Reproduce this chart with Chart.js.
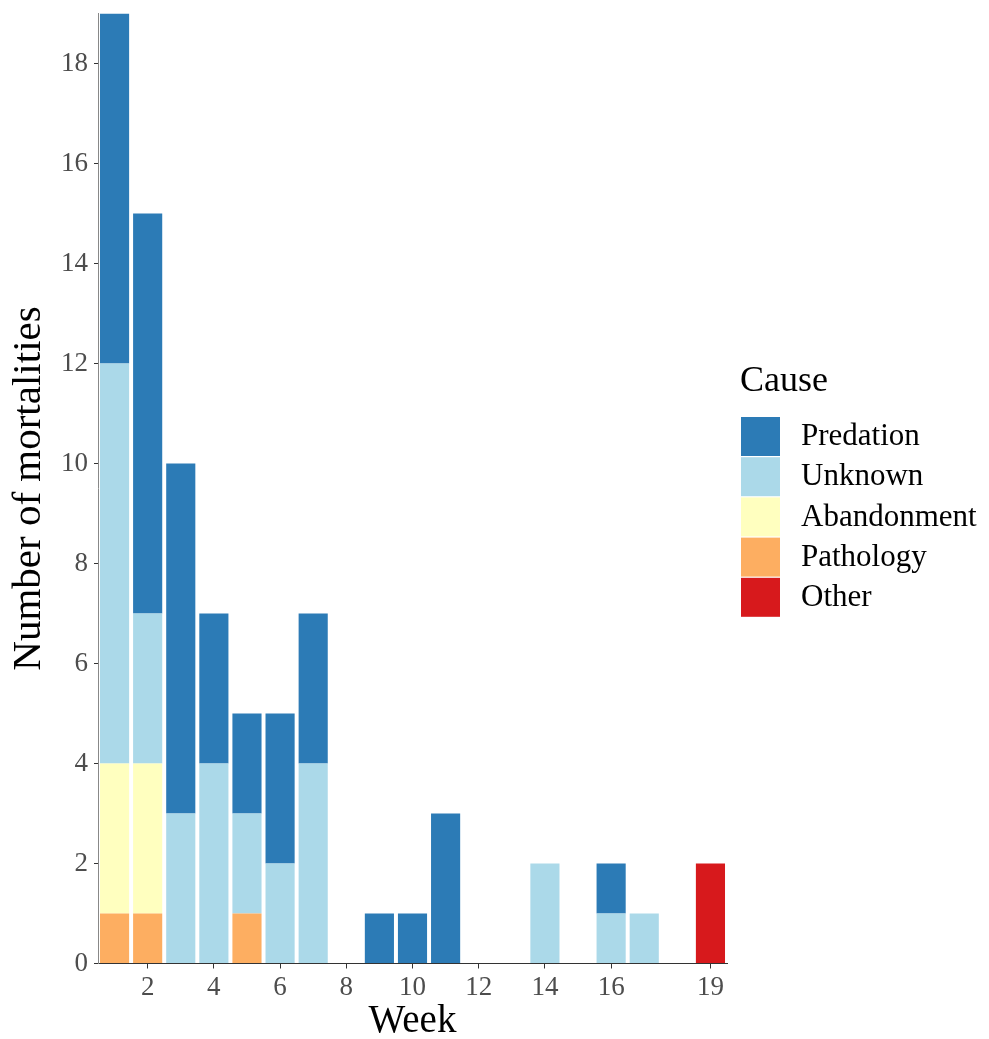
<!DOCTYPE html>
<html>
<head>
<meta charset="utf-8">
<script src="https://cdn.jsdelivr.net/npm/chart.js@4.4.1/dist/chart.umd.min.js"></script>
<style>
  html, body { margin: 0; padding: 0; background: #fff; }
  #wrap { width: 989px; height: 1039px; }
</style>
</head>
<body>
<div id="wrap"><canvas id="myChart"></canvas></div>
<script>
const weeks = ['1','2','3','4','5','6','7','8','9','10','11','12','13','14','15','16','17','18','19'];
const shownWeeks = ['2','4','6','8','10','12','14','16','19'];

// mortalities per week, by cause
const predation   = [7, 8, 7, 3, 2, 3, 3, 0, 1, 1, 3, 0, 0, 0, 0, 1, 0, 0, 0];
const unknown     = [8, 3, 3, 4, 2, 2, 4, 0, 0, 0, 0, 0, 0, 2, 0, 1, 1, 0, 0];
const abandonment = [3, 3, 0, 0, 0, 0, 0, 0, 0, 0, 0, 0, 0, 0, 0, 0, 0, 0, 0];
const pathology   = [1, 1, 0, 0, 1, 0, 0, 0, 0, 0, 0, 0, 0, 0, 0, 0, 0, 0, 0];
const other       = [0, 0, 0, 0, 0, 0, 0, 0, 0, 0, 0, 0, 0, 0, 0, 0, 0, 0, 2];

const serif = '"Liberation Serif", "Times New Roman", serif';

// legend drawn by hand, top item first (reverse of stacking order)
const causeLegend = {
  id: 'causeLegend',
  afterDraw(chart) {
    const ctx = chart.ctx;
    ctx.save();
    ctx.fillStyle = '#000';
    ctx.font = '36px ' + serif;
    ctx.textAlign = 'left';
    ctx.textBaseline = 'alphabetic';
    ctx.fillText('Cause', 740, 391);
    const items = chart.data.datasets.slice().reverse();
    items.forEach((ds, i) => {
      const y = 417 + i * 40.2;
      ctx.fillStyle = ds.backgroundColor;
      ctx.fillRect(741, y, 39, 39);
      ctx.fillStyle = '#000';
      ctx.font = '31px ' + serif;
      ctx.textBaseline = 'middle';
      ctx.fillText(ds.label, 801, y + 20);
    });
    ctx.restore();
  }
};

const data = {
  labels: weeks,
  datasets: [
    { label: 'Other',       data: other,       backgroundColor: '#D7191C' },
    { label: 'Pathology',   data: pathology,   backgroundColor: '#FDAE61' },
    { label: 'Abandonment', data: abandonment, backgroundColor: '#FFFFBF' },
    { label: 'Unknown',     data: unknown,     backgroundColor: '#ABD9E9' },
    { label: 'Predation',   data: predation,   backgroundColor: '#2C7BB6' },
  ]
};

const config = {
  type: 'bar',
  data: data,
  options: {
    responsive: true,
    maintainAspectRatio: false,
    animation: false,
    barPercentage: 0.88,
    categoryPercentage: 1,
    borderWidth: 0,
    layout: {
      padding: { top: 13.5, right: 262, left: 0, bottom: 0 }
    },
    plugins: {
      legend: { display: false },
      tooltip: { enabled: false },
    },
    scales: {
      x: {
        stacked: true,
        offset: true,
        grid: {
          offset: false,
          drawOnChartArea: false,
          tickLength: 5,
          color: ctx => (ctx.tick && shownWeeks.includes(weeks[ctx.tick.value])) ? '#333' : 'rgba(0,0,0,0)',
        },
        border: { display: true, color: '#333', width: 1 },
        ticks: {
          autoSkip: false,
          maxRotation: 0,
          padding: 3,
          color: '#4D4D4D',
          font: { family: serif, size: 27 },
          callback: function (value) {
            const lab = this.getLabelForValue(value);
            return shownWeeks.includes(lab) ? lab : '';
          }
        },
        title: {
          display: true,
          text: 'Week',
          color: '#000',
          font: { family: serif, size: 39, lineHeight: 0.8 },
          padding: { top: 0, bottom: 2 }
        },
        afterFit: scale => {
          scale.height = 75.5;
          scale.paddingLeft = 0;
          scale.paddingRight = 0;
        }
      },
      y: {
        stacked: true,
        min: 0,
        max: 19,
        grid: {
          drawOnChartArea: false,
          tickLength: 4,
          color: '#333'
        },
        border: { display: true, color: '#888', width: 1 },
        ticks: {
          stepSize: 2,
          includeBounds: false,
          padding: 6,
          color: '#4D4D4D',
          font: { family: serif, size: 27 }
        },
        title: {
          display: true,
          text: 'Number of mortalities',
          color: '#000',
          font: { family: serif, size: 41 },
          padding: { top: 5, bottom: 0 }
        },
        afterFit: scale => {
          scale.width = 98;
          scale.paddingTop = 0;
          scale.paddingBottom = 0;
        }
      }
    }
  },
  plugins: [causeLegend]
};

const myChart = new Chart(document.getElementById('myChart'), config);
</script>
</body>
</html>
